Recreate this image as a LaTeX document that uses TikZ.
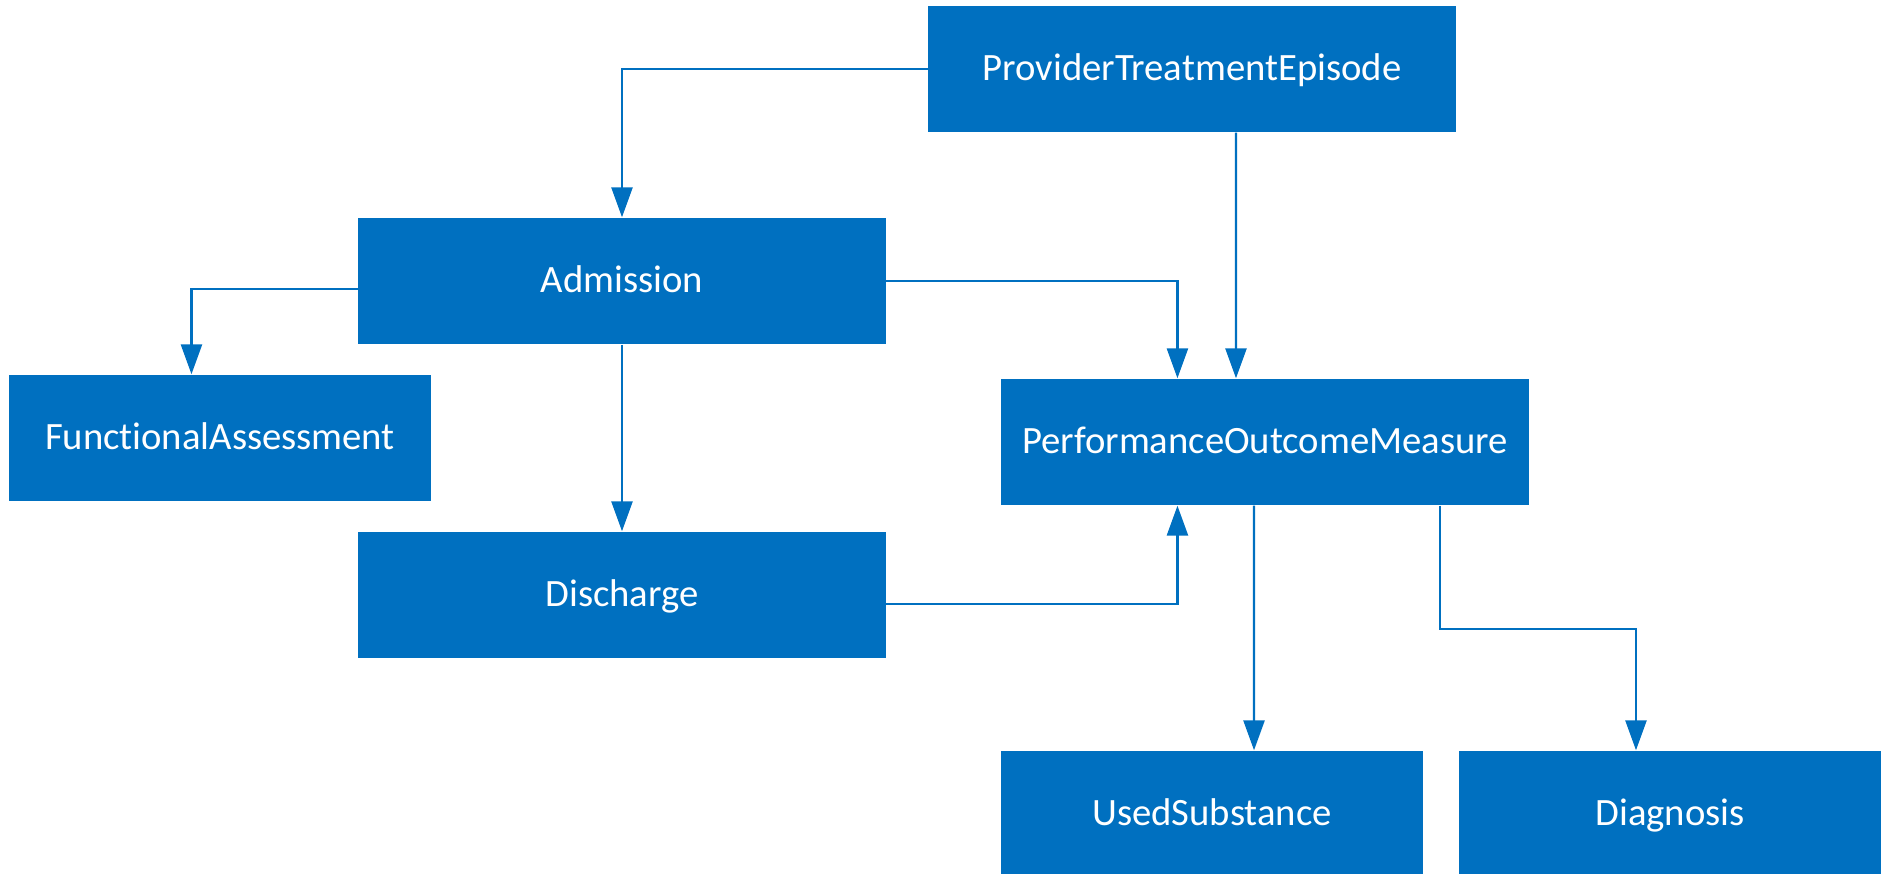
\documentclass[tikz,border=0pt]{standalone}
\usepackage{fontspec}
\setmainfont{Carlito}[Ligatures=NoCommon]
\usetikzlibrary{arrows.meta}
\definecolor{boxblue}{HTML}{0070C0}

\begin{document}
\begin{tikzpicture}[x=0.01cm, y=-0.01cm]
    \tikzstyle{entity}=[rectangle, fill=boxblue, text=white, minimum height=1.26cm, inner sep=0pt, text height=0.64em, text depth=0pt, font=\fontsize{11}{13}\selectfont]
    \tikzstyle{wide}=[entity, minimum width=5.27cm]
    \tikzstyle{narrow}=[entity, minimum width=4.21cm]
    \tikzstyle{link}=[draw=boxblue, line width=0.6pt, -{Triangle[length=8.5pt, width=6pt]}]
    \useasboundingbox (0,0) rectangle (1884,874);

    \node[wide] (pte) at (1192,69) {ProviderTreatmentEpisode};
    \node[wide] (adm) at (622,281) {Admission};
    \node[narrow] (fa) at (220,438) {FunctionalAssessment};
    \node[wide] (dis) at (622,595) {Discharge};
    \node[wide] (pom) at (1265,442) {PerformanceOutcomeMeasure};
    \node[narrow] (us) at (1212,814) {UsedSubstance};
    \node[narrow] (diag) at (1670,814) {Diagnosis};

    \draw[link] (pte.west) -| (adm.north);
    \draw[link] ([xshift=0.44cm]pte.south) -- ([xshift=-0.29cm]pom.north);
    \draw[link] (adm.east) -| ([xshift=-0.875cm]pom.north);
    \draw[link] ([yshift=-0.08cm]adm.west) -| ([xshift=-0.285cm]fa.north);
    \draw[link] (adm.south) -- (dis.north);
    \draw[link] ([yshift=-0.09cm]dis.east) -| ([xshift=-0.875cm]pom.south);
    \draw[link] ([xshift=-0.11cm]pom.south) -- ([xshift=0.42cm]us.north);
    \draw[link] ([xshift=1.75cm]pom.south) -- ++(0,123) -| ([xshift=-0.34cm]diag.north);
\end{tikzpicture}
\end{document}
